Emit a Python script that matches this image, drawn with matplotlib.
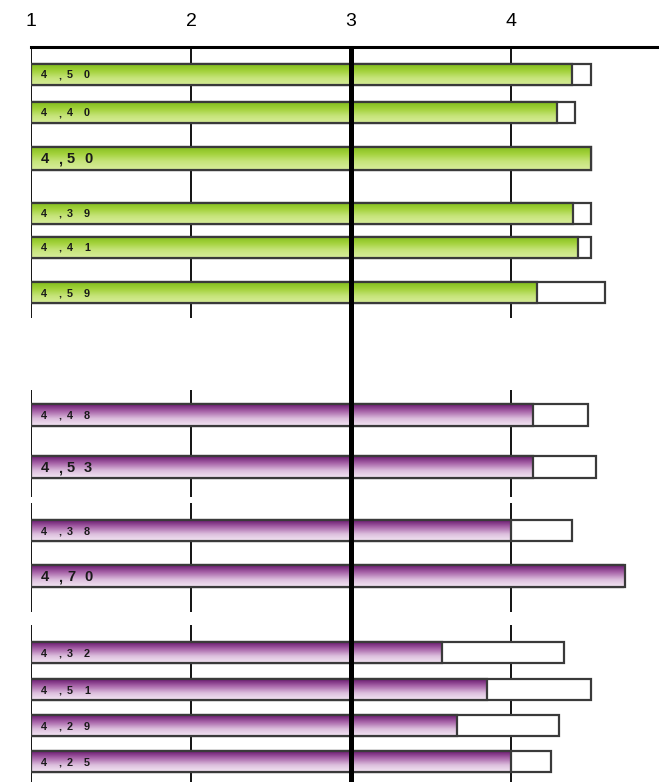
import numpy as np
import matplotlib

matplotlib.use("Agg")
import matplotlib.pyplot as plt
from matplotlib.colors import LinearSegmentedColormap
from matplotlib.patches import Rectangle

# values
labels = ["4,50", "4,40", "4,50", "4,39", "4,41", "4,59",
          "4,48", "4,53", "4,38", "4,70", "4,32", "4,51", "4,29", "4,25"]
fill_values = [4.38, 4.29, 4.50, 4.39, 4.42, 4.16,
               4.14, 4.14, 4.00, 4.71, 3.57, 3.85, 3.66, 4.00]
outline_values = [4.50, 4.40, 4.50, 4.50, 4.50, 4.59,
                  4.48, 4.53, 4.38, 4.70, 4.33, 4.50, 4.30, 4.25]
groups = ["green"] * 6 + ["purple"] * 8
big_label = [False, False, True, False, False, False,
             False, True, False, True, False, False, False, False]
ticks = [1, 2, 3, 4, 5]

# layout (pixel rows of the original picture)
row_y = [74.5, 112.5, 158, 213, 247, 293, 415, 467, 531, 576, 653, 690, 726, 762]
row_h = [21, 21, 23, 21, 21, 21, 22, 22, 21, 22, 21, 21, 21, 21]
line_segments = [(47, 318), (390, 497), (503, 612), (625, 782)]
char_offsets = [10, 27, 36, 53]   # px from the left axis line, one per character
PX = 160.0                        # pixels per unit on the x scale

cmaps = {
    "green": LinearSegmentedColormap.from_list("g", ["#82bd1c", "#a3d23c", "#c6e47a", "#d6ec98"]),
    "purple": LinearSegmentedColormap.from_list("p", ["#6a1b70", "#a966aa", "#dcbedd", "#f3e6f3"]),
}
grad = np.linspace(0, 1, 64).reshape(-1, 1)

fig = plt.figure(figsize=(6.59, 7.82), dpi=100)
ax = fig.add_axes([31 / 659, 0, 640 / 659, (782 - 47) / 782])

for x in [1, 2, 4]:
    for y0, y1 in line_segments:
        ax.vlines(x, y0, y1, color="black", lw=1.3, zorder=1)

for lab, fv, ov, g, big, y, h in zip(labels, fill_values, outline_values, groups,
                                     big_label, row_y, row_h):
    top, bot = y - h / 2, y + h / 2
    ax.add_patch(Rectangle((1, top), ov - 1, h, facecolor="white",
                           edgecolor="#3a3a3a", lw=1.6, zorder=2))
    ax.imshow(grad, extent=(1, fv, bot, top), aspect="auto", cmap=cmaps[g],
              interpolation="bilinear", zorder=3)
    ax.add_patch(Rectangle((1, top), fv - 1, h, facecolor="none",
                           edgecolor="#3a3a3a", lw=1.6, zorder=4))
    fs = 10.5 if big else 7.8
    cap = 0.716 * fs * 100 / 72
    for ch, off in zip(lab, char_offsets):
        ax.text(1 + off / PX, y + cap / 2, ch, ha="left", va="baseline", fontweight="bold",
                fontsize=fs, color="#1a1a1a", family="Liberation Sans", zorder=5)

ax.axvline(3, color="black", lw=3.6, zorder=6)

ax.set_xlim(1, 5)
ax.set_ylim(782, 47)
ax.set_xticks(ticks)
ax.set_xticklabels([str(t) for t in ticks], family="Liberation Sans")
ax.xaxis.set_ticks_position("top")
ax.tick_params(axis="x", length=0, pad=12, labelsize=14)
ax.set_yticks([])
for side in ["left", "right", "bottom"]:
    ax.spines[side].set_visible(False)
ax.spines["top"].set_linewidth(2.2)

fig.savefig("out.png", dpi=100)
plt.close()
